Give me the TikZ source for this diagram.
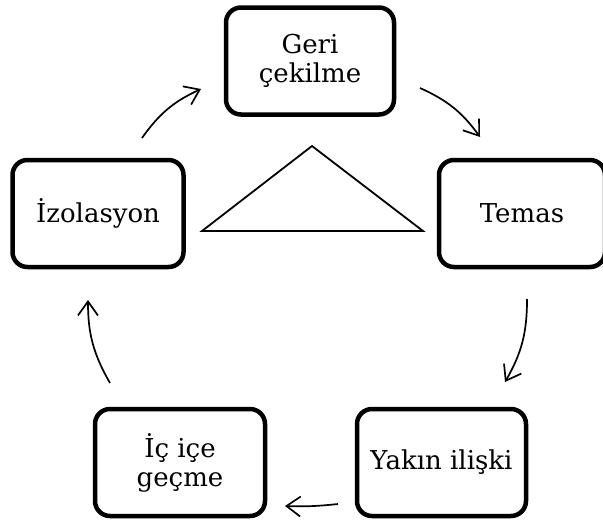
\documentclass[tikz,border=0pt]{standalone}
\usepackage{fontspec}
\setmainfont{DejaVu Serif}
\usetikzlibrary{arrows.meta}
\begin{document}
\begin{tikzpicture}[x=1pt,y=-1pt,
  stagebox/.style={draw,line width=4.5pt,rounded corners=15pt,minimum width=168pt,minimum height=107pt,align=center,inner sep=2pt,font=\fontsize{26}{29}\selectfont},
  cyc/.style={line width=1.7pt,-{Straight Barb[length=14pt,width=20pt,line width=1.7pt]}},
  tri/.style={line width=1.8pt,line join=miter}]
\useasboundingbox (0,0) rectangle (603,525);
\node[stagebox] (geri) at (310,61) {Geri\\çekilme};
\node[stagebox,minimum width=171pt] (izo) at (98,213.5) {İzolasyon};
\node[stagebox,minimum width=166pt] (temas) at (522,213.5) {Temas};
\node[stagebox,minimum width=170pt] (icice) at (180,462.5) {İç içe\\geçme};
\node[stagebox,minimum width=169pt] (yakin) at (441.5,462.5) {Yakın ilişki};
\coordinate (t1) at (142,138); \coordinate (h1) at (201,89);
\coordinate (t2) at (420,88);  \coordinate (h2) at (480,137);
\coordinate (t3) at (527,299); \coordinate (h3) at (505,382);
\coordinate (t4) at (338,504); \coordinate (h4) at (285,506);
\coordinate (t5) at (110,383); \coordinate (h5) at (88,300);
\draw[cyc] (t1) to[bend left=15] (h1);
\draw[cyc] (t2) to[bend left=15] (h2);
\draw[cyc] (t3) to[bend left=15] (h3);
\draw[cyc] (t4) to[bend left=4] (h4);
\draw[cyc] (t5) to[bend left=15] (h5);
\coordinate (ta) at (202,231); \coordinate (tb) at (423,231); \coordinate (tc) at (312,146);
\draw[tri] (ta) -- (tb) -- (tc) -- cycle;
\end{tikzpicture}
\end{document}
